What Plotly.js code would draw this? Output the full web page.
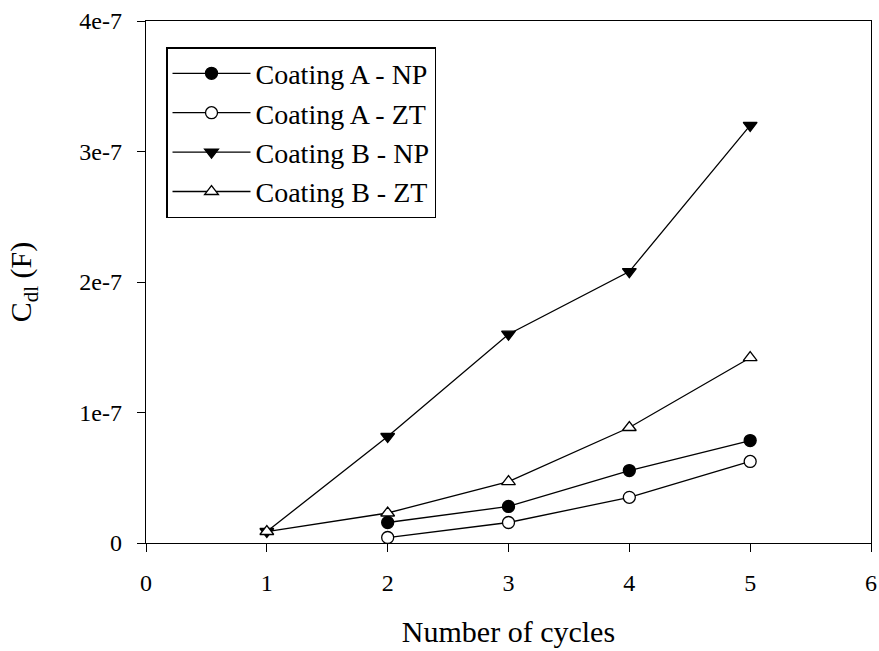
<!DOCTYPE html>
<html>
<head>
<meta charset="utf-8">
<script src="https://cdn.plot.ly/plotly-3.0.1.min.js"></script>
<style>html,body{margin:0;padding:0;background:#fff;}#chart{width:879px;height:651px;}</style>
</head>
<body>
<div id="chart"></div>
<script>
const cycles = [1, 2, 3, 4, 5];
const cyclesA = [2, 3, 4, 5];
const coatingA_NP = [1.57e-8, 2.8e-8, 5.55e-8, 7.85e-8];
const coatingA_ZT = [0.42e-8, 1.57e-8, 3.5e-8, 6.25e-8];
const coatingB_NP = [0.88e-8, 8.16e-8, 1.60e-7, 2.08e-7, 3.20e-7];
const coatingB_ZT = [0.88e-8, 2.3e-8, 4.7e-8, 8.85e-8, 1.42e-7];
const seriesNames = ["Coating A - NP", "Coating A - ZT", "Coating B - NP", "Coating B - ZT"];
const yTickVals = [0, 1e-7, 2e-7, 3e-7, 4e-7];
const yTickText = ["0", "1e-7", "2e-7", "3e-7", "4e-7"];
const xTickVals = [0, 1, 2, 3, 4, 5, 6];

const font = "'Liberation Serif', 'Times New Roman', serif";
function tr(x, y, name, symbol, fill) {
  return {
    x: x, y: y, name: name, type: "scatter", mode: "lines+markers",
    line: {color: "black", width: 1.3},
    marker: {symbol: symbol, size: 12, color: fill, line: {color: "black", width: 1.3}},
    cliponaxis: false
  };
}
const data = [
  tr(cyclesA, coatingA_NP, seriesNames[0], "circle", "black"),
  tr(cyclesA, coatingA_ZT, seriesNames[1], "circle", "white"),
  tr(cycles, coatingB_NP, seriesNames[2], "triangle-down", "black"),
  tr(cycles, coatingB_ZT, seriesNames[3], "triangle-up", "white")
];
const layout = {
  width: 879, height: 651,
  margin: {l: 146, r: 8, t: 21, b: 108},
  paper_bgcolor: "white", plot_bgcolor: "white",
  font: {family: font, color: "black", size: 22},
  showlegend: true,
  legend: {
    x: 0.0276, y: 0.95, xanchor: "left", yanchor: "top",
    bordercolor: "black", borderwidth: 1.5, bgcolor: "white",
    font: {family: font, size: 28, color: "black"},
    itemwidth: 78,
    tracegroupgap: 0
  },
  xaxis: {
    range: [0, 6], tickvals: xTickVals, ticks: "outside", ticklen: 8, tickwidth: 1,
    tickcolor: "black", showline: true, linecolor: "black", linewidth: 1.3, mirror: true,
    showgrid: false, zeroline: false,
    tickfont: {family: font, size: 24},
    ticklabelstandoff: 10,
    title: {text: "Number of cycles", font: {family: font, size: 30}, standoff: 26}
  },
  yaxis: {
    range: [0, 4e-7], tickvals: yTickVals, ticktext: yTickText, ticks: "outside", ticklen: 8, tickwidth: 1,
    tickcolor: "black", showline: true, linecolor: "black", linewidth: 1.3, mirror: true,
    showgrid: false, zeroline: false,
    tickfont: {family: font, size: 24},
    ticklabelstandoff: 10,
    title: {text: "C<sub>dl</sub> (F)", font: {family: font, size: 30}, standoff: 38}
  }
};
Plotly.newPlot("chart", data, layout, {displayModeBar: false, staticPlot: true});
</script>
</body>
</html>
